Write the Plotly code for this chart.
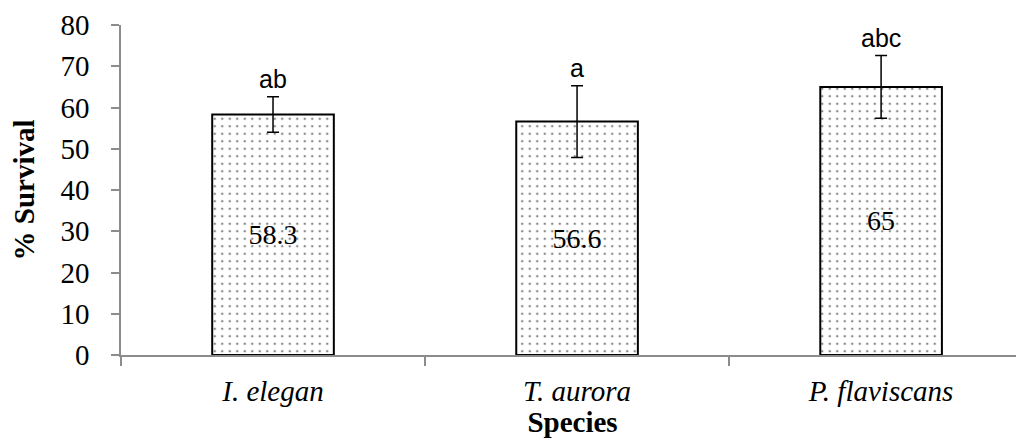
import plotly.graph_objects as go

species = ["I. elegan", "T. aurora", "P. flaviscans"]
survival = [58.3, 56.6, 65]
errors = [4.3, 8.7, 7.6]
letters = ["ab", "a", "abc"]
value_labels = ["58.3", "56.6", "65"]
y_ticks = [0, 10, 20, 30, 40, 50, 60, 70, 80]

xpos = list(range(len(species)))
axis_col = "#8c8c8c"
serif = "Liberation Serif"

fig = go.Figure()
fig.add_trace(go.Bar(
    x=xpos, y=survival,
    width=0.4,
    marker=dict(color="white", line=dict(color="black", width=2),
                pattern=dict(shape=".", fgcolor="#111111", bgcolor="white",
                             size=7.5, solidity=0.09, fillmode="overlay")),
    error_y=dict(type="data", array=errors, visible=True, color="black",
                 thickness=1.5, width=6),
    text=value_labels, textposition="inside", insidetextanchor="middle",
    textfont=dict(family=serif, size=28, color="black"),
    showlegend=False,
))

for x, v, e, l in zip(xpos, survival, errors, letters):
    fig.add_annotation(x=x, y=v + e, text=l, showarrow=False, yanchor="bottom",
                       yshift=2, font=dict(family="Liberation Sans", size=25, color="black"))

fig.update_layout(
    width=1016, height=430,
    margin=dict(l=113, r=0, t=17, b=83),
    plot_bgcolor="white", paper_bgcolor="white",
    xaxis=dict(range=[-0.5, 2.47], tickvals=xpos, ticktext=species, ticks="",
               showline=True, linecolor=axis_col, linewidth=1.5, showgrid=False, zeroline=False,
               ticklabelstandoff=9,
               tickfont=dict(family=serif, size=29, color="black", style="italic"),
               minor=dict(tick0=-0.5, dtick=1, ticks="outside", ticklen=9, tickcolor=axis_col,
                          tickwidth=1.5, showgrid=False),
               title=dict(text="<b>Species</b>", standoff=2,
                          font=dict(family=serif, size=29, color="black"))),
    yaxis=dict(range=[0, 80], tickvals=y_ticks, ticks="outside", ticklen=8, tickcolor=axis_col,
               tickwidth=1.5, showline=True, linecolor=axis_col, linewidth=1.5, showgrid=False,
               zeroline=False, ticklabelstandoff=16,
               tickfont=dict(family=serif, size=29, color="black"),
               title=dict(text="<b>% Survival</b>", standoff=20,
                          font=dict(family=serif, size=29, color="black"))),
)

fig.write_html("out.html")
